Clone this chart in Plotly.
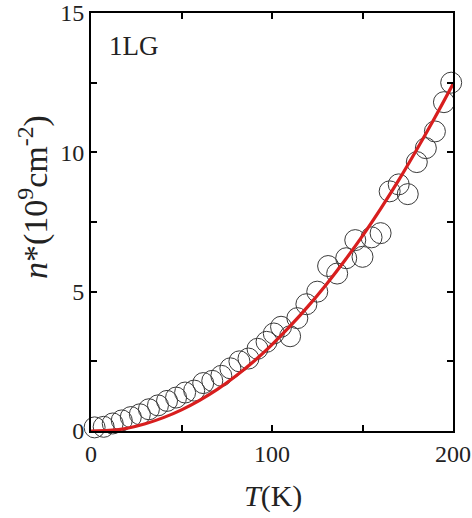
import plotly.graph_objects as go

# Measured data (open circles)
T_data = [2, 7, 12, 17, 22, 27, 32, 37, 42, 47, 52, 57, 62, 67, 72, 77, 82, 87, 92, 97,
          101, 105, 110, 114, 119, 125, 131, 136, 141, 146, 150, 155, 160, 165, 170, 175,
          180, 185, 190, 195, 199]
n_data = [0.13, 0.15, 0.27, 0.38, 0.5, 0.6, 0.78, 0.92, 1.08, 1.2, 1.38, 1.45, 1.72, 1.8,
          1.98, 2.25, 2.5, 2.6, 2.95, 3.2, 3.5, 3.74, 3.4, 4.05, 4.55, 5.0, 5.92, 5.65,
          6.2, 6.85, 6.25, 6.95, 7.1, 8.6, 8.85, 8.5, 9.65, 10.15, 10.75, 11.8, 12.5]

# Fit curve (red)
T_fit = [0, 10, 20, 30, 40, 50, 60, 70, 80, 90, 100, 110, 120, 130, 140, 150, 160, 170,
         180, 190, 200]
n_fit = [0.0, 0.02, 0.1, 0.26, 0.48, 0.76, 1.1, 1.5, 1.97, 2.5, 3.1, 3.76, 4.48, 5.26,
         6.1, 7.0, 7.97, 9.0, 10.1, 11.25, 12.45]

x_major, x_minor = 100, 50
y_major, y_minor = 5, 2.5

FONT = "Liberation Serif"

fig = go.Figure()
fig.add_trace(go.Scatter(
    x=T_data, y=n_data, mode="markers", cliponaxis=False,
    marker=dict(symbol="circle-open", size=21, color="#3a3a3a", line=dict(width=1)),
    showlegend=False))
fig.add_trace(go.Scatter(
    x=T_fit, y=n_fit, mode="lines", line=dict(color="#d81e1e", width=3.2, shape="spline"),
    showlegend=False))

axis_common = dict(showgrid=False, zeroline=False, showline=True, linecolor="black",
                   linewidth=2, mirror="ticks", ticks="inside", ticklen=6, tickwidth=2,
                   tickcolor="black", automargin=False,
                   tickfont=dict(family=FONT, size=24, color="#222"))

fig.update_xaxes(range=[0, 200], tick0=0, dtick=x_major,
                 minor=dict(dtick=x_minor, ticks="inside", ticklen=6, tickwidth=2,
                            tickcolor="black", showgrid=False),
                 **axis_common)
fig.update_yaxes(range=[0, 15], tick0=0, dtick=y_major,
                 minor=dict(dtick=y_minor, ticks="inside", ticklen=6, tickwidth=2,
                            tickcolor="black", showgrid=False),
                 **axis_common)

fig.update_layout(
    width=472, height=518,
    margin=dict(l=91, r=19, t=13, b=87, autoexpand=False),
    paper_bgcolor="white", plot_bgcolor="white",
    annotations=[
        dict(text="1LG", xref="paper", yref="paper", x=0.045, y=(518 - 87 - 46) / 418,
             xanchor="left", yanchor="middle", showarrow=False,
             font=dict(family=FONT, size=27, color="#222")),
        dict(text="<i>T</i>(K)", xref="paper", yref="paper", x=(273 - 91) / 362,
             y=-(496 - 431) / 418, xanchor="center", yanchor="middle", showarrow=False,
             font=dict(family=FONT, size=30, color="#222")),
        dict(text="<i>n</i>*(10<sup>9</sup>cm<sup>-2</sup>)", xref="paper", yref="paper",
             x=-(91 - 34) / 362, y=(431 - 197) / 418, xanchor="center", yanchor="middle",
             textangle=-90, showarrow=False,
             font=dict(family=FONT, size=34, color="#222")),
    ],
)

fig.write_html("out.html")
